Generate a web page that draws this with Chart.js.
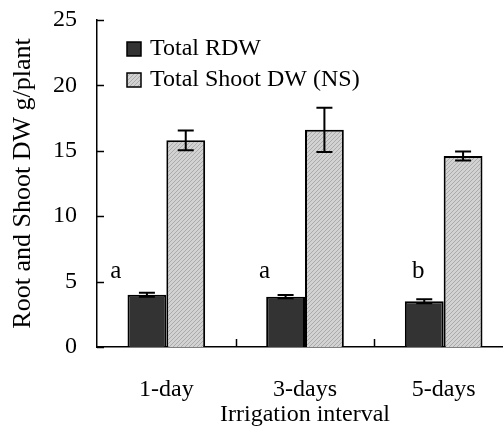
<!DOCTYPE html>
<html>
<head>
<meta charset="utf-8">
<script src="https://cdn.jsdelivr.net/npm/chart.js@4"></script>
<style>
  html, body { margin: 0; padding: 0; background: #fff; overflow: hidden; }
  canvas { display: block; }
</style>
</head>
<body>
<canvas id="c" width="513" height="426"></canvas>
<script>
const intervals = ["1-day", "3-days", "5-days"];
const rdw = [4.0, 3.85, 3.5];
const rdwErr = [0.15, 0.12, 0.15];
const shootDW = [15.8, 16.6, 14.6];
const shootErr = [0.75, 1.7, 0.35];
const letters = ["a", "a", "b"];
const letterShift = [-31, -21, -6];
const letterLevel = 5.3;

const FONT = "'Liberation Serif', 'Times New Roman', serif";

function hatch() {
  const t = document.createElement("canvas");
  t.width = 4; t.height = 4;
  const g = t.getContext("2d");
  g.fillStyle = "#d2d2d2";
  g.fillRect(0, 0, 4, 4);
  g.fillStyle = "#ababab";
  for (let i = 0; i < 4; i++) g.fillRect(i, 3 - i, 1, 1);
  return g.createPattern(t, "repeat");
}
const shootFill = hatch();

const extras = {
  id: "extras",
  afterDatasetsDraw(chart) {
    const ctx = chart.ctx;
    const y = chart.scales.y, x = chart.scales.x;
    const area = chart.chartArea;
    ctx.save();
    ctx.strokeStyle = "#000";
    ctx.lineWidth = 1.5;
    // inward ticks on the y axis
    [0, 5, 10, 15, 20, 25].forEach(v => {
      const py = Math.round(y.getPixelForValue(v)) + 0.5;
      ctx.beginPath(); ctx.moveTo(area.left, py); ctx.lineTo(area.left + 7, py); ctx.stroke();
    });
    // category boundary ticks
    for (let i = 0; i < intervals.length - 1; i++) {
      const px = Math.round((x.getPixelForTick(i) + x.getPixelForTick(i + 1)) / 2) + 0.5;
      ctx.beginPath(); ctx.moveTo(px, area.bottom); ctx.lineTo(px, area.bottom - 8); ctx.stroke();
    }
    // error bars
    ctx.lineWidth = 2;
    const errs = [rdwErr, shootErr];
    chart.data.datasets.forEach((ds, di) => {
      chart.getDatasetMeta(di).data.forEach((bar, i) => {
        const m = ds.data[i], e = errs[di][i];
        const top = y.getPixelForValue(m + e), bot = y.getPixelForValue(m - e);
        ctx.beginPath();
        ctx.moveTo(bar.x, top); ctx.lineTo(bar.x, bot);
        ctx.moveTo(bar.x - 8, top); ctx.lineTo(bar.x + 8, top);
        ctx.moveTo(bar.x - 8, bot); ctx.lineTo(bar.x + 8, bot);
        ctx.stroke();
      });
    });
    // significance letters
    ctx.fillStyle = "#000";
    ctx.font = "25px " + FONT;
    ctx.textAlign = "center";
    ctx.textBaseline = "alphabetic";
    chart.getDatasetMeta(0).data.forEach((bar, i) => {
      ctx.fillText(letters[i], bar.x + letterShift[i], y.getPixelForValue(letterLevel));
    });
    // legend
    ctx.font = "24px " + FONT;
    ctx.textAlign = "left";
    ctx.textBaseline = "middle";
    ctx.lineWidth = 1.5;
    chart.data.datasets.forEach((ds, di) => {
      const by = 42 + di * 31;
      ctx.fillStyle = ds.backgroundColor;
      ctx.fillRect(127, by, 14, 14);
      ctx.strokeRect(127, by, 14, 14);
      ctx.fillStyle = "#000";
      ctx.fillText(ds.label, 150, by + 7);
    });
    ctx.restore();
  }
};

new Chart(document.getElementById("c"), {
  type: "bar",
  data: {
    labels: intervals,
    datasets: [
      { label: "Total RDW", data: rdw, backgroundColor: "#333333", borderColor: "#000", borderWidth: 2, borderSkipped: "bottom" },
      { label: "Total Shoot DW (NS)", data: shootDW, backgroundColor: shootFill, borderColor: "#000", borderWidth: 2, borderSkipped: "bottom" }
    ]
  },
  options: {
    responsive: false,
    animation: false,
    devicePixelRatio: 1,
    layout: { padding: { top: 20, right: 0, bottom: 0, left: 0 } },
    categoryPercentage: 0.56,
    barPercentage: 1.0,
    plugins: { legend: { display: false }, tooltip: { enabled: false } },
    scales: {
      x: {
        grid: { display: false, drawTicks: false },
        border: { display: true, color: "#000", width: 1.5 },
        ticks: { color: "#000", font: { family: FONT, size: 24 }, padding: 28, maxRotation: 0 },
        title: { display: true, text: "Irrigation interval", color: "#000", font: { family: FONT, size: 24 }, padding: { top: 0, bottom: -3 } },
        afterFit(s) { s.height = 79; s.paddingLeft = 0; s.paddingRight = 0; }
      },
      y: {
        min: 0, max: 25,
        grid: { display: false, drawTicks: false },
        border: { display: true, color: "#000", width: 1.5 },
        ticks: { stepSize: 5, color: "#000", font: { family: FONT, size: 24 }, padding: 20 },
        title: { display: true, text: "Root and Shoot DW g/plant", color: "#000", font: { family: FONT, size: 26 }, padding: { top: 8, bottom: 0 } },
        afterFit(s) { s.width = 97; s.paddingTop = 0; s.paddingBottom = 0; }
      }
    }
  },
  plugins: [extras]
});
</script>
</body>
</html>
